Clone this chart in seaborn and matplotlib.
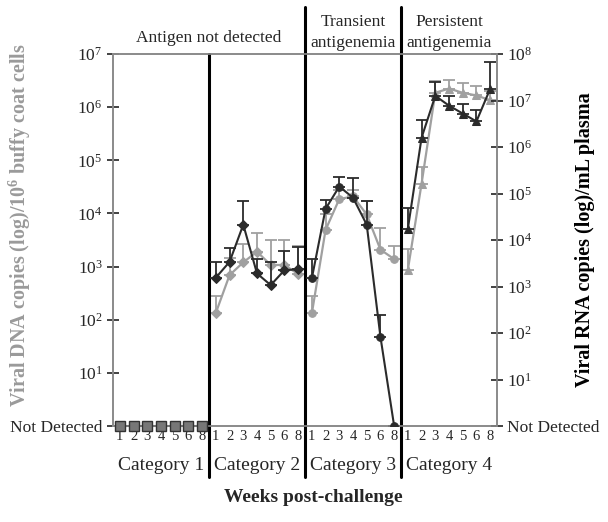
import numpy as np
import pandas as pd
import matplotlib
matplotlib.use("Agg")
import matplotlib.pyplot as plt
import seaborn as sns

sns.set_style("white")
plt.rcParams['font.family'] = ['Liberation Serif', 'DejaVu Serif']
plt.rcParams['mathtext.fontset'] = 'custom'
plt.rcParams['mathtext.rm'] = 'Liberation Serif'
plt.rcParams['mathtext.it'] = 'Liberation Serif:italic'
plt.rcParams['mathtext.bf'] = 'Liberation Serif:bold'

# ---------------- data (log10 exponents; 0 = Not Detected) ----------------
weeks = ["1", "2", "3", "4", "5", "6", "8"]
categories = ["Category 1", "Category 2", "Category 3", "Category 4"]
markers = ["s", "D", "o", "^"]
group_titles = ["Antigen not detected", "Transient\nantigenemia", "Persistent\nantigenemia"]

# Viral DNA (gray, left axis)
dna_cat1 = [0, 0, 0, 0, 0, 0, 0]
dna_cat2 = [2.13, 2.84, 3.08, 3.28, 3.03, 3.03, 2.86]
dna_cat3 = [2.12, 3.69, 4.27, 4.32, 3.98, 3.32, 3.14]
dna_cat4 = [2.94, 4.56, 6.27, 6.35, 6.27, 6.22, 6.13]
dna_up1 = [0, 0, 0, 0, 0, 0, 0]
dna_up2 = [2.45, 3.16, 3.42, 3.64, 3.50, 3.50, 3.39]
dna_up3 = [2.45, 3.98, 4.45, 4.45, 4.23, 3.72, 3.39]
dna_up4 = [3.33, 4.87, 6.50, 6.52, 6.46, 6.40, 6.30]

# Viral RNA (black, right axis)
rna_cat1 = [0, 0, 0, 0, 0, 0, 0]
rna_cat2 = [3.19, 3.53, 4.33, 3.28, 3.03, 3.35, 3.37]
rna_cat3 = [3.18, 4.67, 5.15, 4.91, 4.33, 1.92, 0]
rna_cat4 = [4.24, 6.20, 7.10, 6.89, 6.72, 6.55, 7.25]
rna_up1 = [0, 0, 0, 0, 0, 0, 0]
rna_up2 = [3.53, 3.83, 4.83, 3.60, 3.53, 3.76, 3.86]
rna_up3 = [3.60, 4.86, 5.36, 5.34, 4.83, 2.38, 0]
rna_up4 = [4.69, 6.57, 7.39, 7.10, 6.92, 6.80, 7.82]

dna = [dna_cat1, dna_cat2, dna_cat3, dna_cat4]
dna_up = [dna_up1, dna_up2, dna_up3, dna_up4]
rna = [rna_cat1, rna_cat2, rna_cat3, rna_cat4]
rna_up = [rna_up1, rna_up2, rna_up3, rna_up4]

GRAY = "#a0a0a0"
DARK = "#2b2b2b"
SPINE = "#8a8a8a"

fig = plt.figure(figsize=(6.08, 5.22), dpi=100)
ax = fig.add_axes([113/608, 1-426/522, 384/608, 372/522])
ax2 = ax.twinx()

nw = len(weeks)
xpos_all = []
for c in range(len(categories)):
    xs = np.arange(nw) + c * nw + 0.5
    xpos_all.extend(xs)
    dv = 10.0 ** np.array(dna[c])
    du = 10.0 ** np.array(dna_up[c])
    rv = 10.0 ** np.array(rna[c])
    ru = 10.0 ** np.array(rna_up[c])
    df_d = pd.DataFrame({"x": xs, "y": dv})
    df_r = pd.DataFrame({"x": xs, "y": rv})
    if c > 0:
        ax.errorbar(xs, dv, yerr=[np.zeros(nw), du - dv], fmt="none", ecolor=GRAY,
                    elinewidth=1.3, capsize=4, capthick=1.3, zorder=2)
        sns.lineplot(data=df_d, x="x", y="y", ax=ax, color=GRAY, marker=markers[c],
                     markersize=5.5, markeredgecolor=GRAY, linewidth=1.6, zorder=3)
        ax2.errorbar(xs, rv, yerr=[np.zeros(nw), ru - rv], fmt="none", ecolor=DARK,
                     elinewidth=1.3, capsize=4, capthick=1.3, zorder=2)
        sns.lineplot(data=df_r, x="x", y="y", ax=ax2, color=DARK, marker=markers[c],
                     markersize=5.5, markeredgecolor=DARK, linewidth=1.5, zorder=3)
    else:
        sns.lineplot(data=df_r, x="x", y="y", ax=ax2, color="#777777", marker="s",
                     markersize=6.5, markeredgecolor="#333333", markeredgewidth=1.0,
                     linewidth=1.5, zorder=4, clip_on=False)

ax.set_yscale("log")
ax2.set_yscale("log")
ax.set_ylim(1, 1e7)
ax2.set_ylim(1, 1e8)
ax.set_xlim(0, 4 * nw)

left_ticks = [10.0 ** k for k in range(0, 8)]
left_labels = ["Not Detected"] + [r"$10^{%d}$" % k for k in range(1, 8)]
right_ticks = [10.0 ** k for k in range(0, 9)]
right_labels = ["Not Detected"] + [r"$10^{%d}$" % k for k in range(1, 9)]
ax.set_yticks(left_ticks)
ax.set_yticklabels(left_labels, fontsize=12.5)
ax.minorticks_off()
ax2.set_yticks(right_ticks)
ax2.set_yticklabels(right_labels, fontsize=12.5)
ax2.minorticks_off()
ax.tick_params(axis="y", direction="inout", length=9, width=1.2, color="#222222", pad=3)
ax2.tick_params(axis="y", direction="inout", length=9, width=1.2, color="#222222", pad=3)

ax.set_xticks(xpos_all)
ax.set_xticklabels(weeks * len(categories), fontsize=10.5)
ax.tick_params(axis="x", length=0, pad=3)

for a in (ax, ax2):
    for s in a.spines.values():
        s.set_color(SPINE)
        s.set_linewidth(1.2)
    a.set_xlabel("")
    a.set_ylabel("")

fig.text(20/608, 1 - 225/522, r"Viral DNA copies (log)/10$^{\mathbf{6}}$ buffy coat cells",
         color="#9a9a9a", fontsize=14.5, fontweight="bold", rotation=90,
         ha="center", va="center")
fig.text(585/608, 1 - 240/522, "Viral RNA copies (log)/mL plasma", color="black",
         fontsize=14.5, fontweight="bold", rotation=90, ha="center", va="center")

# category separators
trans = ax.get_xaxis_transform()
ax.plot([nw, nw], [1.0, -0.137], color="black", lw=2.2, transform=trans, clip_on=False, zorder=5)
for c in (2, 3):
    ax.plot([c * nw, c * nw], [1.126, -0.137], color="black", lw=2.2, transform=trans,
            clip_on=False, zorder=5)

# category labels
for c, name in enumerate(categories):
    ax.text(c * nw + nw / 2, -0.105, name, transform=trans, ha="center", va="center",
            fontsize=14)

# group titles
ax.text(nw, 1.043, group_titles[0], transform=trans, ha="center", va="center", fontsize=12.5)
ax.text(2.5 * nw, 1.058, group_titles[1], transform=trans, ha="center", va="center",
        fontsize=12.5, linespacing=1.35)
ax.text(3.5 * nw, 1.058, group_titles[2], transform=trans, ha="center", va="center",
        fontsize=12.5, linespacing=1.35)

fig.text(313/608, 1 - 497/522, "Weeks post-challenge", ha="center", va="center",
         fontsize=14, fontweight="bold")

fig.savefig("out.png", dpi=100)
